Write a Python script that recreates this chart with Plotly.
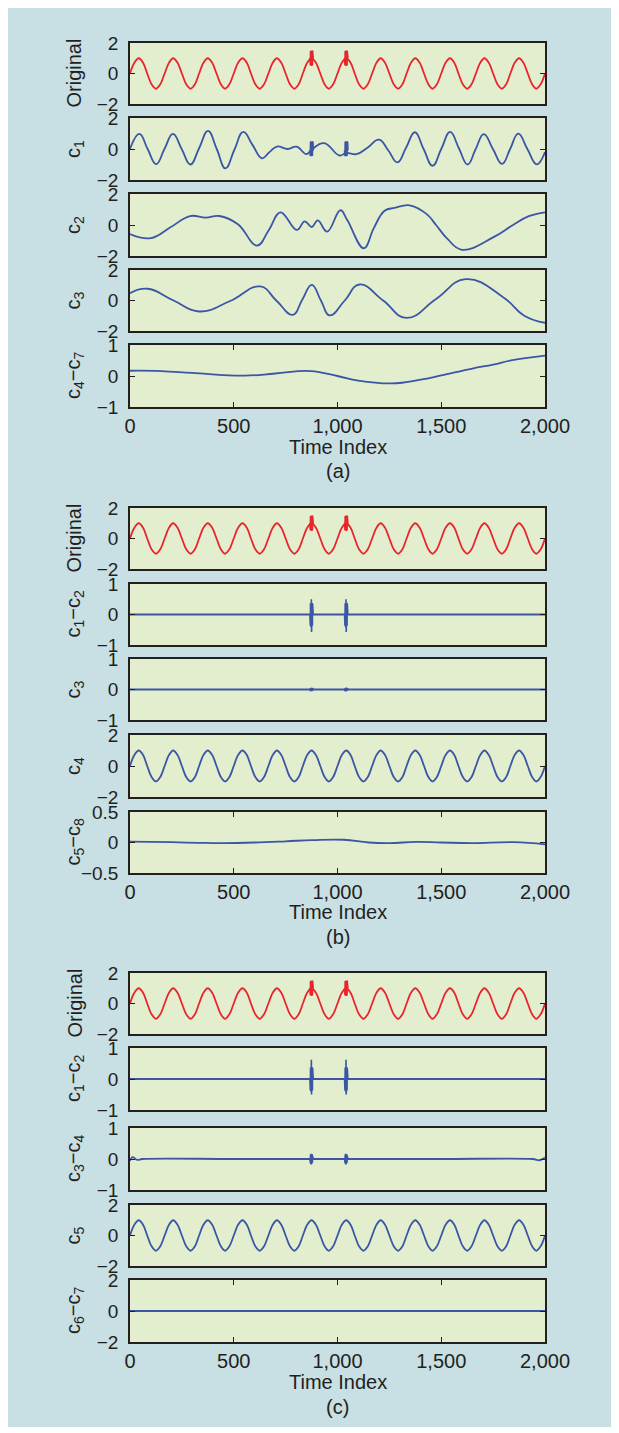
import plotly.graph_objects as go

W, H = 619, 1433

# ---------------- data ----------------
# pure tone, sampled at eighth-period knots (12 cycles over the record)
tone_t = [0, 21, 42, 63, 83, 104, 125, 146, 167, 188, 208, 229, 250, 271, 292, 313,
          333, 354, 375, 396, 417, 438, 458, 479, 500, 521, 542, 563, 583, 604, 625, 646,
          667, 688, 708, 729, 750, 771, 792, 813, 833, 854, 875, 896, 917, 938, 958, 979,
          1000, 1021, 1042, 1063, 1083, 1104, 1125, 1146, 1167, 1188, 1208, 1229, 1250, 1271, 1292, 1313,
          1333, 1354, 1375, 1396, 1417, 1438, 1458, 1479, 1500, 1521, 1542, 1563, 1583, 1604, 1625, 1646,
          1667, 1688, 1708, 1729, 1750, 1771, 1792, 1813, 1833, 1854, 1875, 1896, 1917, 1938, 1958, 1979,
          2000]
tone_v = [0, 0.71, 1, 0.71, 0, -0.71, -1, -0.71, 0, 0.71, 1, 0.71, 0, -0.71, -1, -0.71,
          0, 0.71, 1, 0.71, 0, -0.71, -1, -0.71, 0, 0.71, 1, 0.71, 0, -0.71, -1, -0.71,
          0, 0.71, 1, 0.71, 0, -0.71, -1, -0.71, 0, 0.71, 1, 0.71, 0, -0.71, -1, -0.71,
          0, 0.71, 1, 0.71, 0, -0.71, -1, -0.71, 0, 0.71, 1, 0.71, 0, -0.71, -1, -0.71,
          0, 0.71, 1, 0.71, 0, -0.71, -1, -0.71, 0, 0.71, 1, 0.71, 0, -0.71, -1, -0.71,
          0, 0.71, 1, 0.71, 0, -0.71, -1, -0.71, 0, 0.71, 1, 0.71, 0, -0.71, -1, -0.71,
          0]

# short high-frequency bursts riding on the tone
burst_centres = [875, 1042]
burst_dt = [-8, -7, -6, -5, -4, -3, -2, -1, 0, 1, 2, 3, 4, 5, 6, 7, 8]
burst_orig = [1.0, 1.45, 0.55, 1.48, 0.52, 1.5, 0.52, 1.5, 0.5, 1.5, 0.52, 1.5, 0.52, 1.48, 0.55, 1.45, 1.0]
burst_c1_a = [-0.1, 0.45, -0.45, 0.48, -0.47, 0.5, -0.47, 0.5, -0.47, 0.5, -0.47, 0.5, -0.45, 0.48, -0.45, 0.4, -0.1]
burst_c12_b = [0, 0.34, -0.36, 0.37, -0.38, 0.38, -0.4, 0.5, -0.57, 0.38, -0.38, 0.38, -0.37, 0.36, -0.35, 0.3, 0]
burst_c3_b = [0, 0.04, -0.05, 0.05, -0.05, 0.05, -0.05, 0.06, -0.06, 0.05, -0.05, 0.05, -0.05, 0.05, -0.04, 0.03, 0]
burst_c12_c = [0, 0.34, -0.36, 0.37, -0.38, 0.38, -0.4, 0.62, -0.5, 0.38, -0.38, 0.38, -0.37, 0.36, -0.35, 0.3, 0]
burst_c34_c = [0, 0.1, -0.12, 0.14, -0.15, 0.17, -0.18, 0.16, -0.17, 0.15, -0.14, 0.13, -0.12, 0.1, -0.08, 0.05, 0]

# panel (a) components
c1a_t = [0, 45, 85, 126, 166, 207, 249, 291, 333, 376, 418, 460, 503, 546, 591, 636, 672, 708,
         760, 803, 850, 875, 935, 1010, 1042, 1092, 1146, 1200, 1245, 1289, 1331, 1373, 1415,
         1458, 1500, 1543, 1585, 1627, 1666, 1705, 1749, 1793, 1832, 1871, 1915, 1960, 2000]
c1a_v = [0.0, 0.98, 0.0, -0.98, 0.0, 0.98, 0.0, -1.0, 0.05, 1.17, 0.0, -1.25, -0.05, 1.1, 0.25,
         -0.6, -0.2, 0.16, 0.0, 0.15, -0.33, -0.05, 0.38, -0.42, -0.25, -0.33, 0.1, 0.6, -0.1,
         -0.86, 0.1, 1.08, 0.0, -1.08, 0.0, 1.1, 0.05, -1.0, 0.0, 0.96, 0.0, -0.96, 0.0, 0.99,
         0.0, -0.99, -0.2]
c2a_t = [0, 100, 195, 290, 365, 430, 520, 612, 670, 725, 804, 842, 876, 905, 950, 1014, 1047,
         1127, 1175, 1227, 1275, 1348, 1430, 1475, 1530, 1600, 1750, 1846, 1922, 2000]
c2a_v = [-0.58, -0.85, -0.15, 0.58, 0.47, 0.58, 0.05, -1.33, -0.3, 0.82, -0.32, 0.24, -0.13, 0.3,
         -0.43, 0.95, 0.32, -1.5, -0.2, 0.92, 1.1, 1.27, 0.7, 0.0, -0.9, -1.6, -0.8, 0.0, 0.57, 0.82]
c3a_t = [0, 84, 210, 333, 480, 628, 705, 784, 830, 876, 920, 963, 1035, 1106, 1220, 1332, 1475,
         1618, 1800, 1900, 2000]
c3a_v = [0.48, 0.77, 0.0, -0.72, -0.05, 0.92, 0.0, -0.94, 0.05, 1.03, 0.0, -0.98, 0.0, 1.05,
         0.0, -1.14, 0.1, 1.4, 0.2, -1.0, -1.46]
c47a_t = [0, 150, 300, 550, 700, 870, 1000, 1100, 1260, 1400, 1500, 1650, 1750, 1850, 2000]
c47a_v = [0.17, 0.16, 0.1, 0.01, 0.08, 0.16, 0.0, -0.15, -0.24, -0.12, 0.02, 0.24, 0.37, 0.52, 0.66]

# panel (b) residual trend
c58b_t = [0, 200, 330, 450, 600, 750, 880, 1030, 1150, 1250, 1380, 1500, 1650, 1850, 2000]
c58b_v = [0.015, 0.005, -0.005, -0.01, 0.0, 0.02, 0.04, 0.045, 0.0, -0.01, 0.01, 0.0, -0.01, 0.005, -0.03]

# panel (c) c3-c4 baseline with small edge ripples
c34c_t = [0, 12, 35, 60, 500, 1000, 1500, 1940, 1975, 2000]
c34c_v = [-0.06, 0.06, -0.03, 0.0, 0.0, 0.0, 0.0, 0.0, -0.04, 0.05]

flat_t = [0, 2000]
flat_v = [0, 0]

x_ticks = [0, 500, 1000, 1500, 2000]
x_tick_text = ["0", "500", "1,000", "1,500", "2,000"]

# ---------------- styling ----------------
RED = "#e8242c"
BLUE = "#3a56a5"
FRAME = "#231f20"
CARD = "#c8dfe4"
PANEL = "#e3eecf"
FONT = "Liberation Sans, Arial, Helvetica, sans-serif"
PLOT_L, PLOT_R = 130, 545


def fx(px):
    return px / W


def fy(py):
    return 1 - py / H


# each row: (top px, bottom px, y range, y ticks, label, [(t, v, colour, smoothing)], bottom-of-group)
rows = [
    (43, 104, [-2, 2], [-2, 0, 2], "Original",
     [(tone_t, tone_v, RED, 1.0), ("burst", burst_orig, RED, 0)], False),
    (118, 180, [-2, 2], [-2, 0, 2], "c<sub>1</sub>",
     [(c1a_t, c1a_v, BLUE, 1.3), ("burst", burst_c1_a, BLUE, 0)], False),
    (194, 256, [-2, 2], [-2, 0, 2], "c<sub>2</sub>", [(c2a_t, c2a_v, BLUE, 1.2)], False),
    (270, 331, [-2, 2], [-2, 0, 2], "c<sub>3</sub>", [(c3a_t, c3a_v, BLUE, 1.3)], False),
    (345, 407, [-1, 1], [-1, 0, 1], "c<sub>4</sub>−c<sub>7</sub>", [(c47a_t, c47a_v, BLUE, 1.2)], True),

    (508, 569, [-2, 2], [-2, 0, 2], "Original",
     [(tone_t, tone_v, RED, 1.0), ("burst", burst_orig, RED, 0)], False),
    (584, 645, [-1, 1], [-1, 0, 1], "c<sub>1</sub>−c<sub>2</sub>",
     [(flat_t, flat_v, BLUE, 0), ("burst", burst_c12_b, BLUE, 0)], False),
    (659, 720, [-1, 1], [-1, 0, 1], "c<sub>3</sub>",
     [(flat_t, flat_v, BLUE, 0), ("burst", burst_c3_b, BLUE, 0)], False),
    (735, 797, [-2, 2], [-2, 0, 2], "c<sub>4</sub>", [(tone_t, tone_v, BLUE, 1.0)], False),
    (812, 873, [-0.5, 0.5], [-0.5, 0, 0.5], "c<sub>5</sub>−c<sub>8</sub>", [(c58b_t, c58b_v, BLUE, 1.2)], True),

    (973, 1034, [-2, 2], [-2, 0, 2], "Original",
     [(tone_t, tone_v, RED, 1.0), ("burst", burst_orig, RED, 0)], False),
    (1048, 1110, [-1, 1], [-1, 0, 1], "c<sub>1</sub>−c<sub>2</sub>",
     [(flat_t, flat_v, BLUE, 0), ("burst", burst_c12_c, BLUE, 0)], False),
    (1128, 1190, [-1, 1], [-1, 0, 1], "c<sub>3</sub>−c<sub>4</sub>",
     [(c34c_t, c34c_v, BLUE, 1.0), ("burst", burst_c34_c, BLUE, 0)], False),
    (1205, 1266, [-2, 2], [-2, 0, 2], "c<sub>5</sub>", [(tone_t, tone_v, BLUE, 1.0)], False),
    (1280, 1342, [-2, 2], [-2, 0, 2], "c<sub>6</sub>−c<sub>7</sub>", [(flat_t, flat_v, BLUE, 0)], True),
]

# group captions: ("Time Index" y, tag y, tag)
captions = [(447, 471, "(a)"), (912, 937, "(b)"), (1382, 1407, "(c)")]

fig = go.Figure()
layout = dict(
    template="none",
    width=W, height=H, autosize=False,
    margin=dict(l=0, r=0, t=0, b=0, pad=0, autoexpand=False),
    paper_bgcolor=CARD, plot_bgcolor=PANEL,
    showlegend=False, annotations=[], shapes=[],
)

for i, (top, bot, yr, ytv, label, series, bottom) in enumerate(rows, start=1):
    xa, ya = f"x{i}", f"y{i}"
    for t, v, col, smooth in series:
        if t == "burst":
            for c in burst_centres:
                fig.add_trace(go.Scatter(
                    x=[c + d for d in burst_dt], y=v, mode="lines",
                    line=dict(color=col, width=1.6), xaxis=xa, yaxis=ya, hoverinfo="skip"))
        else:
            line = dict(color=col, width=1.8)
            if smooth:
                line.update(shape="spline", smoothing=smooth)
            fig.add_trace(go.Scatter(x=t, y=v, mode="lines", line=line,
                                     xaxis=xa, yaxis=ya, hoverinfo="skip"))
    key = "" if i == 1 else str(i)
    layout["xaxis" + key] = dict(
        domain=[fx(PLOT_L), fx(PLOT_R)], range=[0, 2000], anchor=ya, automargin=False,
        showline=True, linecolor=FRAME, linewidth=1.5, mirror="ticks" if bottom else True,
        ticks="inside" if bottom else "", ticklen=5, tickwidth=1.2, tickcolor=FRAME,
        tickvals=x_ticks, ticktext=x_tick_text, showticklabels=bottom,
        tickfont=dict(family=FONT, size=20, color=FRAME), ticklabelstandoff=0,
        showgrid=False, zeroline=False, fixedrange=True)
    layout["yaxis" + key] = dict(
        domain=[fy(bot), fy(top)], range=yr, anchor=xa, automargin=False,
        showline=True, linecolor=FRAME, linewidth=1.5, mirror="ticks",
        ticks="inside", ticklen=5, tickwidth=1.2, tickcolor=FRAME, tickvals=ytv,
        tickfont=dict(family=FONT, size=19, color=FRAME), ticklabelstandoff=6,
        showgrid=False, zeroline=False, fixedrange=True)
    layout["annotations"].append(dict(
        text=label, xref="paper", yref="paper", x=fx(74), y=fy((top + bot) / 2),
        xanchor="center", yanchor="middle", textangle=-90, showarrow=False,
        font=dict(family=FONT, size=20, color=FRAME)))

for ty, tagy, tag in captions:
    for txt, yy in (("Time Index", ty), (tag, tagy)):
        layout["annotations"].append(dict(
            text=txt, xref="paper", yref="paper", x=fx((PLOT_L + PLOT_R) / 2), y=fy(yy),
            xanchor="center", yanchor="middle", showarrow=False,
            font=dict(family=FONT, size=20, color=FRAME)))

# white border around the tinted card
for x0, y0, x1, y1 in [(-40, -40, W + 40, 8), (-40, 1427, W + 40, H + 40),
                       (-40, -40, 8, H + 40), (611, -40, W + 40, H + 40)]:
    layout["shapes"].append(dict(
        type="rect", xref="paper", yref="paper", x0=fx(x0), x1=fx(x1),
        y0=fy(y1), y1=fy(y0), fillcolor="white", line=dict(width=0), layer="above"))

fig.update_layout(**layout)
fig.write_html("out.html", config={"displayModeBar": False})
